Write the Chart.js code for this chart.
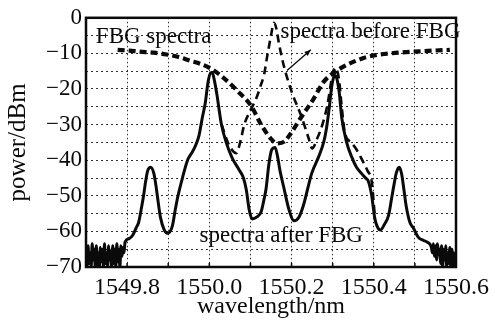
<!DOCTYPE html>
<html><head><meta charset="utf-8">
<script src="https://cdn.jsdelivr.net/npm/chart.js@4.4.1/dist/chart.umd.min.js"></script>
<style>html,body{margin:0;padding:0;background:#fff}#wrap{width:495px;height:321px;position:relative}</style>
</head><body><div id="wrap"><canvas id="c" width="495" height="321"></canvas></div>
<script>
// ---- data ----
const afterX = [1549.7000,1549.7025,1549.7050,1549.7075,1549.7100,1549.7125,1549.7150,1549.7175,1549.7200,1549.7225,1549.7250,1549.7275,1549.7300,1549.7325,1549.7350,1549.7375,1549.7400,1549.7425,1549.7450,1549.7475,1549.7500,1549.7525,1549.7550,1549.7575,1549.7600,1549.7625,1549.7650,1549.7675,1549.7700,1549.7725,1549.7750,1549.7775,1549.7800,1549.7825,1549.7850,1549.7875,1549.7900,1549.7925,1549.7950,
  1549.805,1549.814,1549.822,1549.828,1549.834,1549.840,1549.845,1549.850,1549.857,1549.865,1549.870,1549.874,1549.881,1549.890,1549.898,1549.910,1549.917,1549.923,1549.935,1549.947,1549.957,1549.966,1549.975,1549.983,1549.990,1549.997,1550.003,1550.007,1550.013,1550.019,1550.029,1550.041,1550.056,1550.073,1550.083,1550.090,1550.097,1550.104,1550.115,1550.126,1550.133,1550.138,1550.145,1550.152,1550.160,1550.166,1550.172,1550.181,1550.194,1550.206,1550.218,1550.228,1550.235,1550.249,1550.266,1550.278,1550.285,1550.292,1550.298,1550.305,1550.310,1550.316,1550.322,1550.334,1550.346,1550.358,1550.370,1550.380,1550.387,1550.395,1550.402,1550.408,1550.416,1550.426,1550.436,1550.443,1550.449,1550.455,1550.462,1550.468,1550.473,1550.479,1550.488,1550.496,1550.508,1550.520,1550.530,
  1550.5400,1550.5425,1550.5450,1550.5475,1550.5500,1550.5525,1550.5550,1550.5575,1550.5600,1550.5625,1550.5650,1550.5675,1550.5700,1550.5725,1550.5750,1550.5775,1550.5800,1550.5825,1550.5850,1550.5875,1550.5900,1550.5925,1550.5950,1550.5975,1550.6000];
const afterY = [-65,-70,-64,-69,-66,-70,-63.5,-68,-65,-70,-64,-69.5,-66,-70,-64.5,-68.5,-65,-70,-63.5,-69,-66,-70,-64,-68,-65.5,-70,-64,-69,-65,-70,-63.5,-68.5,-65,-70,-64,-67,-64.5,-66,-63,
  -62,-61,-59,-57.5,-54,-50,-46,-43,-42,-43.7,-47,-50.4,-56,-59.5,-60.5,-58.5,-54,-50.4,-44.8,-40,-38,-36,-33,-28,-24,-18,-15.5,-15.4,-18,-22,-29.7,-35,-39.5,-42.8,-45,-48.4,-54,-56.5,-56,-54.5,-51,-48,-41,-37,-36.4,-39,-43,-47.6,-54,-57,-56,-53,-50,-43.7,-39,-35,-31,-25,-19,-16.2,-17,-21,-28,-35,-39,-42,-43.7,-45,-46,-50,-56,-58.5,-59.6,-58,-55.5,-51,-47,-43.5,-42,-44,-48,-53,-57.5,-59,-61.6,-62.5,-63,
  -64.4,-66,-63.5,-67,-64,-68,-63.5,-66.5,-65,-69,-64,-70,-65,-68,-64,-70,-66,-69,-64.5,-70,-65,-70,-66,-70,-70];

const beforeX = [1550.030,1550.045,1550.058,1550.066,1550.075,1550.085,1550.100,1550.114,1550.125,1550.133,1550.142,1550.150,1550.157,1550.163,1550.169,1550.181,1550.201,1550.223,1550.242,1550.250,1550.262,1550.275,1550.288,1550.298,1550.306,1550.315,1550.322,1550.330,1550.345,1550.358,1550.372,1550.385,1550.395,1550.402];
const beforeY = [-30,-35,-37.5,-38,-35,-30,-26,-22.7,-19,-16,-10,-5,-1.4,-3,-7,-13.4,-21,-27.4,-34,-36.7,-34,-30,-24,-17,-14,-17,-25,-32.5,-35,-37,-40,-43,-46,-55];

const fbgX = [1549.777,1549.805,1549.831,1549.865,1549.896,1549.925,1549.952,1549.980,1550.007,1550.036,1550.068,1550.102,1550.126,1550.150,1550.165,1550.182,1550.198,1550.223,1550.254,1550.278,1550.302,1550.325,1550.346,1550.375,1550.404,1550.460,1550.532,1550.585];
const fbgY = [-9,-9.2,-9.5,-9.8,-10.3,-11,-12,-13,-14.5,-17,-20.5,-24.8,-30,-34,-35.3,-34.8,-32.5,-28,-22.7,-18,-15.5,-13.8,-12.6,-11.3,-10.5,-9.8,-9.3,-9];

const xTickLabels = ['1549.8','1550.0','1550.2','1550.4','1550.6'];
const yTickLabels = ['0','−10','−20','−30','−40','−50','−60','−70'];
const seriesNames = ['FBG spectra','spectra before FBG','spectra after FBG'];
const axisTitles = ['wavelength/nm','power/dBm'];

// ---- build ----
const pts = (xs, ys) => xs.map((x, i) => ({x: x, y: ys[i]}));
const FONT = '"Liberation Serif","Times New Roman",serif';
const INK = '#0a0a0a';

const overlay = {
  id: 'overlay',
  afterDatasetsDraw(chart) {
    const {ctx, chartArea: a, scales: {x, y}} = chart;
    ctx.save();
    // frame
    ctx.strokeStyle = INK; ctx.lineWidth = 2.5; ctx.setLineDash([]);
    ctx.strokeRect(a.left, a.top, a.right - a.left, a.bottom - a.top);
    // inward ticks on bottom axis
    ctx.lineWidth = 1.5;
    for (let k = 1; k < 9; k++) {
      const px = x.getPixelForValue(1549.7 + k * 0.1);
      ctx.beginPath(); ctx.moveTo(px, a.bottom); ctx.lineTo(px, a.bottom - 4); ctx.stroke();
    }
    // annotation texts
    ctx.fillStyle = INK;
    ctx.font = '23px ' + FONT;
    ctx.textBaseline = 'alphabetic';
    ctx.textAlign = 'left';
    ctx.fillText(seriesNames[0], x.getPixelForValue(1549.724), y.getPixelForValue(-7.0));
    ctx.fillText(seriesNames[1], x.getPixelForValue(1550.173), y.getPixelForValue(-5.8));
    ctx.fillText(seriesNames[2], x.getPixelForValue(1549.976), y.getPixelForValue(-63.0));
    // arrow
    const x0 = x.getPixelForValue(1550.189), y0 = y.getPixelForValue(-14.8);
    const x1 = x.getPixelForValue(1550.247), y1 = y.getPixelForValue(-9.0);
    ctx.lineWidth = 1.3; ctx.strokeStyle = INK;
    ctx.beginPath(); ctx.moveTo(x0, y0); ctx.lineTo(x1, y1); ctx.stroke();
    const ang = Math.atan2(y1 - y0, x1 - x0), L = 7;
    ctx.beginPath();
    ctx.moveTo(x1, y1);
    ctx.lineTo(x1 - L * Math.cos(ang - 0.4), y1 - L * Math.sin(ang - 0.4));
    ctx.lineTo(x1 - L * Math.cos(ang + 0.4), y1 - L * Math.sin(ang + 0.4));
    ctx.closePath(); ctx.fill();
    ctx.restore();
  }
};

new Chart(document.getElementById('c'), {
  type: 'line',
  data: {
    datasets: [
      {label: seriesNames[0], data: pts(fbgX, fbgY), borderColor: INK, borderWidth: 4.2,
       borderDash: [7, 4], pointRadius: 0, cubicInterpolationMode: 'monotone', fill: false},
      {label: seriesNames[1], data: pts(beforeX, beforeY), borderColor: INK, borderWidth: 2.6,
       borderDash: [8, 5], pointRadius: 0, cubicInterpolationMode: 'monotone', fill: false},
      {label: seriesNames[2], data: pts(afterX, afterY), borderColor: INK, borderWidth: 3,
       pointRadius: 0, cubicInterpolationMode: 'monotone', fill: false}
    ]
  },
  options: {
    responsive: false, animation: false, devicePixelRatio: 1,
    layout: {padding: {top: 17, right: 37, left: 0, bottom: 0}},
    plugins: {legend: {display: false}, tooltip: {enabled: false}},
    scales: {
      x: {
        type: 'linear', min: 1549.7, max: 1550.6,
        afterFit(s) { s.height = 54; },
        ticks: {
          stepSize: 0.1, autoSkip: false, maxRotation: 0, padding: 6,
          color: INK, font: {family: FONT, size: 24},
          callback(v) { const t = Math.round(v * 10); return (t % 2 === 0) ? xTickLabels[(t - 15498) / 2] : ''; }
        },
        grid: {color: '#333', lineWidth: 1, drawTicks: false},
        border: {display: false, dash: [1.5, 2.5]},
        title: {display: true, text: axisTitles[0], color: INK, font: {family: FONT, size: 24}, padding: {top: 0, bottom: 0}}
      },
      y: {
        min: -70, max: 0,
        afterFit(s) { s.width = 86; },
        ticks: {
          stepSize: 5, autoSkip: false, padding: 4,
          color: INK, font: {family: FONT, size: 23},
          callback(v) { const t = Math.round(v); return (t % 10 === 0) ? yTickLabels[-t / 10] : ''; }
        },
        grid: {color: '#333', lineWidth: 1, drawTicks: false},
        border: {display: false, dash: [2, 3]},
        title: {display: true, text: axisTitles[1], color: INK, font: {family: FONT, size: 25}, padding: {top: 3, bottom: 0}}
      }
    }
  },
  plugins: [overlay]
});
</script></body></html>
